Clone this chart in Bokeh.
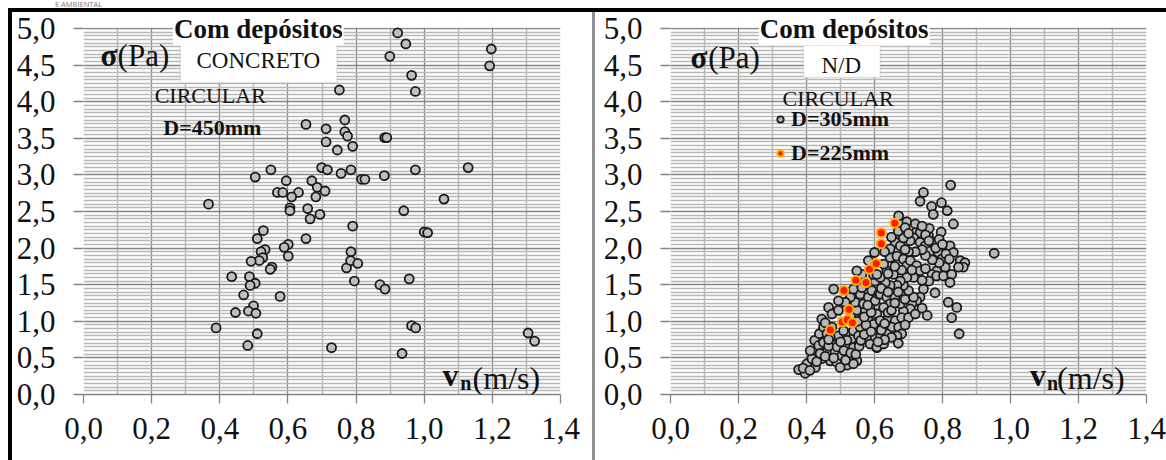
from bokeh.plotting import figure
from bokeh.models import (FixedTicker, Label, BoxAnnotation, Legend, LegendItem,
                          Range1d, Div, CustomJSTickFormatter)
from bokeh.layouts import row, column
from bokeh.embed import file_html
from bokeh.resources import INLINE

SERIF = "'Liberation Serif', 'Times New Roman', serif"

# ---------------- data ----------------
x_ticks = [0.0, 0.2, 0.4, 0.6, 0.8, 1.0, 1.2, 1.4]
y_ticks = [0.0, 0.5, 1.0, 1.5, 2.0, 2.5, 3.0, 3.5, 4.0, 4.5, 5.0]

# left panel: CONCRETO, CIRCULAR, D=450mm
v_450 = [0.922, 0.946, 0.899, 0.963, 0.974, 1.197, 1.192, 0.751, 0.653, 0.712, 0.767, 0.767, 0.775, 0.712, 0.745, 0.790, 0.884, 0.890,
         0.699, 0.716, 0.756, 0.785, 0.816, 0.826, 0.883, 0.974, 1.129, 1.058, 0.940,
         0.504, 0.550, 0.595, 0.569, 0.585, 0.631, 0.611, 0.606, 0.606, 0.670, 0.686, 0.709, 0.682, 0.658, 0.665, 0.694, 0.367,
         0.790, 0.653, 0.528, 0.510, 0.533, 0.521, 0.526, 0.516, 0.492, 0.553, 0.548, 0.601, 0.589, 0.601,
         0.435, 0.487, 0.504, 0.489, 0.470, 0.577, 0.499, 0.484, 0.506, 0.446, 0.389, 0.510, 0.482, 0.728,
         0.772, 0.785, 0.784, 0.805, 0.795, 0.870, 0.885, 1.000, 1.010, 0.956, 0.963, 0.975, 0.935, 1.305, 1.324]
s_450 = [4.94, 4.79, 4.62, 4.36, 4.14, 4.72, 4.49, 4.16, 3.69, 3.63, 3.75, 3.59, 3.53, 3.45, 3.34, 3.39, 3.51, 3.51,
         3.10, 3.07, 3.02, 3.07, 2.94, 2.94, 2.99, 3.07, 3.10, 2.67, 2.51,
         2.97, 3.07, 2.92, 2.76, 2.76, 2.76, 2.70, 2.55, 2.51, 2.92, 2.83, 2.78, 2.70, 2.54, 2.40, 2.46, 2.60,
         2.30, 2.13, 2.24, 2.13, 1.98, 1.95, 1.87, 1.83, 1.82, 1.74, 1.71, 2.05, 2.01, 1.89,
         1.61, 1.61, 1.52, 1.49, 1.36, 1.34, 1.21, 1.14, 1.11, 1.12, 0.91, 0.83, 0.67, 0.64,
         1.73, 1.95, 1.83, 1.79, 1.55, 1.50, 1.44, 2.22, 2.21, 1.58, 0.94, 0.91, 0.56, 0.84, 0.73]

# right panel: N/D, CIRCULAR, D=305mm
v_305 = [0.377, 0.396, 0.401, 0.416, 0.426, 0.411, 0.424, 0.438, 0.450, 0.445,
         0.465, 0.480, 0.475, 0.494, 0.436, 0.450, 0.460, 0.445, 0.475, 0.484,
         0.470, 0.489, 0.504, 0.519, 0.499, 0.524, 0.538, 0.533, 0.519, 0.494,
         0.509, 0.538, 0.475, 0.460, 0.558, 0.553, 0.563, 0.548, 0.573, 0.543,
         0.568, 0.529, 0.514, 0.494, 0.558, 0.582, 0.538, 0.563, 0.592, 0.602,
         0.597, 0.563, 0.548, 0.582, 0.600, 0.582, 0.597, 0.602, 0.587, 0.607,
         0.548, 0.538, 0.612, 0.602, 0.612,
         0.724, 0.734, 0.715, 0.705, 0.661, 0.676, 0.734, 0.749, 0.773, 0.764,
         0.788, 0.798, 0.822, 0.832, 0.808, 0.783, 0.769, 0.783, 0.803, 0.827,
         0.822, 0.852, 0.866, 0.861, 0.847, 0.778, 0.744, 0.734, 0.724, 0.710,
         0.705, 0.685, 0.676, 0.690, 0.715, 0.700, 0.685, 0.656, 0.636, 0.627,
         0.646, 0.666, 0.685, 0.695, 0.705, 0.724, 0.734, 0.715, 0.695, 0.676,
         0.666, 0.646, 0.632, 0.617, 0.607, 0.617, 0.636, 0.646, 0.627,
         0.607, 0.597, 0.617, 0.641, 0.661, 0.651, 0.671, 0.680, 0.666, 0.636,
         0.617, 0.607, 0.627, 0.817, 0.842, 0.827, 0.849, 0.685, 0.646, 0.759,
         0.824, 0.744, 0.734, 0.768, 0.773, 0.797, 0.814, 0.832, 0.796, 0.761, 0.671, 0.695,
         0.952,
         0.390, 0.410, 0.430, 0.440, 0.455, 0.465, 0.470, 0.480, 0.490, 0.500,
         0.510, 0.515, 0.530, 0.545, 0.555, 0.560, 0.570, 0.575, 0.455, 0.465,
         0.530, 0.550, 0.570, 0.590, 0.580, 0.590, 0.620, 0.630, 0.640, 0.650,
         0.660, 0.670, 0.620, 0.640, 0.660, 0.680, 0.700, 0.720, 0.690, 0.650,
         0.670, 0.630, 0.610,
         0.630, 0.650, 0.670, 0.690, 0.700, 0.720, 0.740, 0.750, 0.760, 0.780,
         0.790, 0.800, 0.810, 0.820, 0.790, 0.770, 0.750, 0.740, 0.720, 0.700,
         0.690, 0.750, 0.760, 0.740, 0.710, 0.680, 0.660, 0.640, 0.740, 0.755]
s_305 = [0.34, 0.29, 0.42, 0.49, 0.37, 0.60, 0.74, 0.83, 0.92, 1.03,
         1.19, 1.44, 1.10, 1.15, 0.67, 0.71, 0.58, 0.49, 0.69, 0.58,
         0.46, 0.44, 0.53, 0.40, 0.37, 0.51, 0.64, 0.76, 0.74, 0.80,
         0.87, 0.87, 0.92, 0.83, 0.92, 0.80, 1.05, 1.15, 1.15, 1.26,
         1.24, 1.33, 1.26, 1.28, 1.37, 1.33, 1.44, 1.46, 1.42, 1.55,
         1.64, 1.64, 1.69, 1.83, 1.94, 1.01, 0.92, 0.78, 0.69, 0.64,
         0.46, 0.42, 1.19, 1.28, 1.37,
         2.23, 2.21, 2.14, 2.10, 2.08, 2.03, 2.08, 2.03, 2.08, 1.96,
         1.94, 1.85, 2.03, 1.94, 1.74, 1.69, 1.64, 1.62, 1.62, 1.64,
         1.53, 1.83, 1.80, 1.74, 1.74, 1.39, 1.44, 1.33, 1.28, 1.24,
         1.17, 1.14, 1.24, 1.30, 1.33, 1.42, 1.49, 1.64, 1.69, 1.78,
         1.87, 1.89, 1.85, 1.76, 1.83, 1.76, 1.69, 1.60, 1.60, 1.55,
         1.49, 1.49, 1.53, 1.60, 1.64, 1.37, 1.33, 1.24, 1.19,
         1.10, 0.96, 1.01, 1.05, 1.01, 0.92, 0.92, 0.83, 0.80, 0.83,
         0.78, 0.65, 0.69, 1.26, 1.19, 1.05, 0.83, 2.14, 1.99, 2.17,
         2.86, 2.76, 2.64, 2.57, 2.46, 2.62, 2.51, 2.33, 2.22, 2.27, 2.44, 2.36,
         1.93,
         0.36, 0.33, 0.45, 0.56, 0.52, 0.66, 0.78, 0.50, 0.65, 0.72,
         0.60, 0.47, 0.57, 0.55, 0.66, 0.74, 0.82, 0.95, 0.98, 0.75,
         1.06, 1.00, 1.06, 1.12, 1.22, 0.86, 0.88, 0.97, 1.12, 1.15,
         1.33, 1.40, 1.45, 1.40, 1.25, 1.05, 1.05, 1.10, 0.95, 0.78,
         0.70, 0.75, 0.72,
         1.95, 2.15, 2.23, 2.28, 2.20, 2.33, 2.30, 2.18, 2.10, 2.00,
         2.12, 2.05, 1.92, 1.85, 1.80, 1.84, 1.90, 1.98, 1.95, 1.95,
         1.98, 1.72, 1.55, 1.56, 1.70, 1.70, 1.75, 1.65, 1.18, 1.08]

# right panel: D=225mm
v_225 = [0.470, 0.505, 0.520, 0.535, 0.525, 0.510, 0.545, 0.575, 0.585, 0.605, 0.620, 0.620, 0.660]
s_225 = [0.88, 0.99, 1.02, 0.98, 1.16, 1.42, 1.56, 1.53, 1.71, 1.79, 2.06, 2.21, 2.34]

# ---------------- styling helpers ----------------
GRID_MAJOR = "#858585"
GRID_MINOR = "#b8b8b8"
FIG_H = 448
Y_TOP = 5.164   # a little head-room above the 5,0 line for the title texts


def make_panel(width, border_left, border_right):
    p = figure(width=width, height=FIG_H, x_range=Range1d(0, 1.4), y_range=Range1d(0, Y_TOP),
               output_backend="svg", toolbar_location=None,
               min_border_left=border_left, min_border_right=border_right,
               min_border_top=4, min_border_bottom=66)
    p.background_fill_color = "white"
    p.border_fill_color = "white"
    p.outline_line_color = None
    x_minor = [t + 0.1 for t in x_ticks[:-1]]
    y_minor = [round(0.05 * i, 2) for i in range(101) if i % 10 != 0]
    xt = FixedTicker(ticks=x_ticks, minor_ticks=x_minor)
    yt = FixedTicker(ticks=y_ticks, minor_ticks=y_minor)
    fmt = "return tick.toFixed(1).replace('.', ',');"
    for ax, t, tick_out, standoff, fs in ((p.xaxis[0], xt, 9, 14, "31px"), (p.yaxis[0], yt, 10, 18, "31px")):
        ax.ticker = t
        ax.formatter = CustomJSTickFormatter(code=fmt)
        ax.axis_line_color = GRID_MAJOR
        ax.axis_line_width = 1.3
        ax.major_tick_line_color = GRID_MAJOR
        ax.major_tick_line_width = 1.3
        ax.major_tick_out = tick_out
        ax.major_tick_in = 0
        ax.minor_tick_out = 0
        ax.minor_tick_in = 0
        ax.major_label_text_font = SERIF
        ax.major_label_text_font_size = fs
        ax.major_label_text_color = "#111111"
        ax.major_label_standoff = standoff
    p.yaxis[0].axis_line_color = None
    p.xgrid.ticker = xt
    p.ygrid.ticker = yt
    for g in (p.xgrid[0], p.ygrid[0]):
        g.grid_line_color = GRID_MAJOR
        g.grid_line_width = 1.3
        g.minor_grid_line_color = GRID_MINOR
        g.minor_grid_line_width = 1.5
    # blank the head-room strip above the 5,0 line
    p.add_layout(BoxAnnotation(bottom=5.01, fill_color="white", fill_alpha=1.0,
                               line_color=None, level="underlay"))
    return p


def text(p, x, y, s, size, bold=False, align="left", bg=None):
    lab = Label(x=x, y=y, text=s, text_font=SERIF, text_font_size=f"{size}px",
                text_font_style="bold" if bold else "normal", text_color="#111111",
                text_align=align, text_baseline="middle")
    if bg:
        lab.background_fill_color = bg
        lab.padding = 1
    p.add_layout(lab)
    return lab


# ---------------- left panel ----------------
p1 = make_panel(580, 71, 32)
p1.scatter(v_450, s_450, size=9, fill_color="#bfbfbf", line_color="#1a1a1a", line_width=1.8)
p1.add_layout(BoxAnnotation(left=0.284, right=0.744, bottom=4.26, top=4.84, fill_color="white",
                            fill_alpha=1.0, line_color="#a8a8a8", line_width=1.5))
text(p1, 0.513, 4.99, "Com depósitos", 27, bold=True, align="center", bg="white")
text(p1, 0.050, 4.63, "σ", 31, bold=True)
text(p1, 0.100, 4.63, "(Pa)", 31)
text(p1, 0.513, 4.56, "CONCRETO", 23, align="center")
text(p1, 0.372, 4.09, "CIRCULAR", 22, align="center")
text(p1, 0.378, 3.65, "D=450mm", 22, bold=True, align="center")
text(p1, 1.054, 0.26, "v", 32, bold=True)
text(p1, 1.106, 0.16, "n", 20, bold=True)
text(p1, 1.142, 0.225, "(m/s)", 32)

# ---------------- right panel ----------------
p2 = make_panel(571, 75, 20)
r305 = p2.scatter(v_305, s_305, size=9, fill_color="#b8b8b8", line_color="#1a1a1a", line_width=1.8)
r225 = p2.scatter(v_225, s_225, size=9, fill_color="#ff1a00", line_color="#ffb000", line_width=2)
p2.add_layout(BoxAnnotation(left=0.391, right=0.617, bottom=4.33, top=4.77, fill_color="white",
                            fill_alpha=1.0, line_color="#a8a8a8", line_width=1.5))
text(p2, 0.511, 4.99, "Com depósitos", 27, bold=True, align="center", bg="white")
text(p2, 0.059, 4.60, "σ", 31, bold=True)
text(p2, 0.111, 4.60, "(Pa)", 31)
text(p2, 0.502, 4.49, "N/D", 23, align="center")
text(p2, 0.493, 4.05, "CIRCULAR", 22, align="center")
text(p2, 1.057, 0.26, "v", 32, bold=True)
text(p2, 1.107, 0.16, "n", 20, bold=True)
text(p2, 1.137, 0.225, "(m/s)", 32)

leg = Legend(items=[LegendItem(label="D=305mm", renderers=[r305]),
                    LegendItem(label="D=225mm", renderers=[r225])],
             location=(102, 228), orientation="vertical",
             glyph_width=16, glyph_height=20, label_height=20, label_standoff=3,
             spacing=8, padding=0, margin=0,
             background_fill_alpha=0.0, border_line_color=None,
             label_text_font=SERIF, label_text_font_size="22px",
             label_text_font_style="bold", label_text_color="#111111")
p2.add_layout(leg, "center")

# ---------------- frame lines & layout ----------------
header = Div(text='<span style="margin-left:55px">E AMBIENTAL</span>', width=1166, height=8, margin=0,
             styles={"font-size": "7.5px", "line-height": "8px", "color": "#7a7a7a",
                     "font-family": "'Open Sans', sans-serif", "white-space": "nowrap"})
top_bar = row(Div(text="", width=8, height=4, margin=0),
              Div(text="", width=1158, height=4, margin=0, styles={"background-color": "black"}))
left_pad = Div(text="", width=8, height=FIG_H, margin=0)
left_bar = Div(text="", width=4, height=FIG_H, margin=0, styles={"background-color": "black"})
sep = Div(text="", width=3, height=FIG_H, margin=0, styles={"background-color": "#8f8f8f"})

layout = column(header, top_bar, row(left_pad, left_bar, p1, sep, p2))

open("out.html", "w").write(file_html(layout, INLINE))
